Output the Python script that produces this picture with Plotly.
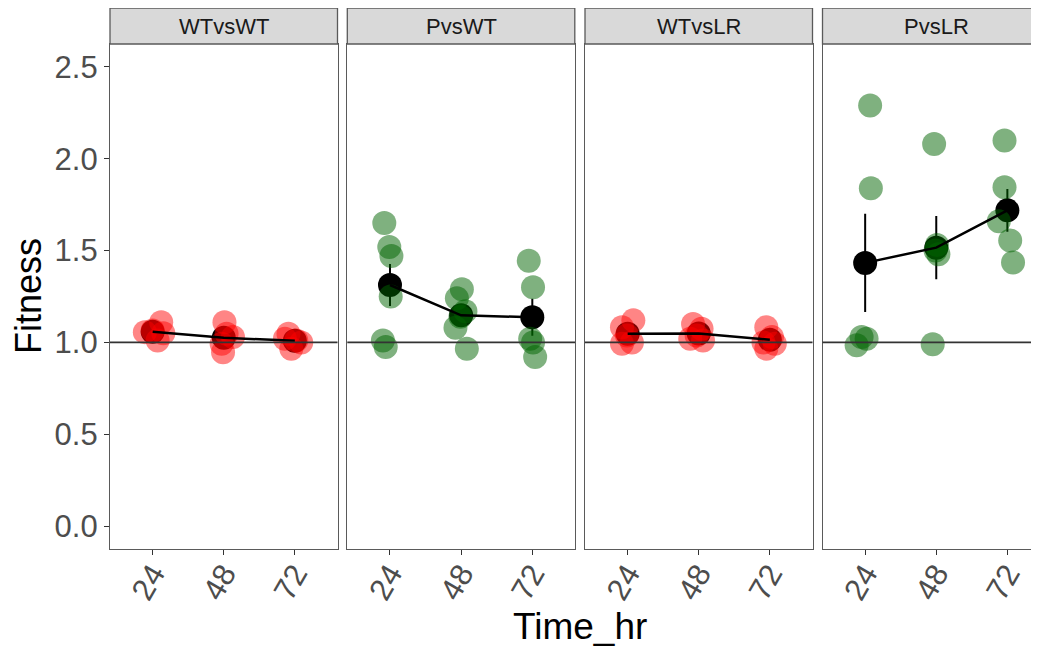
import numpy as np
import plotly.graph_objects as go

# ---------------- data ----------------
panels = ["WTvsWT", "PvsWT", "WTvsLR", "PvsLR"]
time_labels = ["24", "48", "72"]
panel_colors = ["rgba(255,0,0,0.48)", "rgba(0,100,0,0.5)",
                "rgba(255,0,0,0.48)", "rgba(0,100,0,0.5)"]

# Fitness values per panel, per time point (24, 48, 72)
wtvswt_24 = [1.11, 1.065, 1.056, 1.05, 1.01]
wtvswt_48 = [1.11, 1.047, 0.993, 0.947, 1.03]
wtvswt_72 = [1.047, 1.01, 0.966, 1.0, 1.02]

pvswt_24 = [1.65, 1.52, 1.47, 1.25, 1.01, 0.975]
pvswt_48 = [1.29, 1.24, 1.17, 1.14, 1.08, 0.965]
pvswt_72 = [1.445, 1.30, 1.02, 1.00, 0.92]

wtvslr_24 = [1.12, 1.083, 1.038, 0.993, 1.0]
wtvslr_48 = [1.10, 1.075, 1.038, 1.02, 1.01]
wtvslr_72 = [1.083, 1.03, 0.966, 0.993, 1.0]

pvslr_24 = [2.29, 1.84, 1.03, 1.02, 0.985]
pvslr_48 = [2.08, 1.53, 1.50, 1.48, 0.99]
pvslr_72 = [2.10, 1.845, 1.66, 1.555, 1.435]

# horizontal jitter (in category units) of each point
jit_wtvswt = [[0.12, 0.0, -0.11, 0.15, 0.07],
              [0.01, 0.04, -0.03, -0.01, 0.13],
              [-0.09, 0.02, -0.05, 0.09, -0.14]]
jit_pvswt = [[-0.08, -0.01, 0.02, 0.01, -0.10, -0.06],
             [0.01, -0.06, 0.06, -0.01, -0.08, 0.08],
             [-0.05, 0.01, -0.03, 0.01, 0.04]]
jit_wtvslr = [[0.08, -0.08, -0.01, -0.08, 0.06],
              [-0.08, 0.04, -0.03, -0.12, 0.06],
              [-0.05, 0.03, -0.05, 0.07, -0.09]]
jit_pvslr = [[0.07, 0.08, -0.05, 0.02, -0.12],
             [-0.03, 0.01, -0.01, 0.03, -0.05],
             [-0.04, -0.04, -0.12, 0.04, 0.08]]

values = [[wtvswt_24, wtvswt_48, wtvswt_72],
          [pvswt_24, pvswt_48, pvswt_72],
          [wtvslr_24, wtvslr_48, wtvslr_72],
          [pvslr_24, pvslr_48, pvslr_72]]
jitters = [jit_wtvswt, jit_pvswt, jit_wtvslr, jit_pvslr]

y_ticks = [0.0, 0.5, 1.0, 1.5, 2.0, 2.5]

# ---------------- layout geometry ----------------
OFF = 8  # page body margin offset
W, H = 1039 - OFF, 651 - OFF
px_left = [p - OFF for p in [110, 347.3, 585, 822.5]]
px_right = [p - OFF for p in [337.5, 575, 812.5, 1039]]
unit = 71.1
y_top_px, y_bot_px = 44 - OFF, 549 - OFF
strip_top_px = 8 - OFF

FONT = "Arial, Liberation Sans, sans-serif"
BORDER = "#5a5a5a"

fig = go.Figure()

for i, name in enumerate(panels):
    ax = "" if i == 0 else str(i + 1)
    xr, yr = "x" + ax, "y" + ax
    means, ses = [], []
    for t in range(3):
        v = np.array(values[i][t])
        means.append(v.mean())
        ses.append(v.std(ddof=1) / np.sqrt(len(v)))
    xs_cat = [1, 2, 3]
    # mean points with standard-error bars (drawn below the jittered points)
    fig.add_trace(go.Scatter(x=xs_cat, y=means, mode="markers", xaxis=xr, yaxis=yr,
                             marker=dict(size=24, color="black"),
                             error_y=dict(type="data", array=ses, visible=True,
                                          color="black", thickness=2, width=0),
                             showlegend=False, hoverinfo="skip"))
    # jittered raw points
    px_, py_ = [], []
    for t in range(3):
        for val, j in zip(values[i][t], jitters[i][t]):
            px_.append(t + 1 + j)
            py_.append(val)
    fig.add_trace(go.Scatter(x=px_, y=py_, mode="markers", xaxis=xr, yaxis=yr,
                             marker=dict(size=24, color=panel_colors[i],
                                         line=dict(width=0)),
                             showlegend=False))
    # mean line
    fig.add_trace(go.Scatter(x=xs_cat, y=means, mode="lines", xaxis=xr, yaxis=yr,
                             line=dict(color="black", width=2.5),
                             showlegend=False, hoverinfo="skip"))

    x0 = px_left[i] / W
    x1 = min(px_right[i] / W, 1.0)
    xmax = 0.4 + (px_right[i] - px_left[i]) / unit if i == 3 else 3.6
    fig.layout["xaxis" + ax] = dict(
        domain=[x0, x1], range=[0.4, xmax], anchor=yr,
        tickvals=[1, 2, 3], ticktext=time_labels, tickangle=-60,
        ticks="outside", ticklen=5, tickcolor="#333333", tickwidth=1.2,
        ticklabelstandoff=-12,
        tickfont=dict(size=31, color="#4d4d4d", family=FONT),
        showline=True, linecolor=BORDER, linewidth=1.3, mirror=True,
        showgrid=False, zeroline=False, fixedrange=True)
    fig.layout["yaxis" + ax] = dict(
        domain=[(H - y_bot_px) / H, (H - y_top_px) / H], range=[-0.125, 2.625],
        anchor=xr, tickvals=y_ticks,
        ticktext=["%.1f" % v for v in y_ticks],
        showticklabels=(i == 0), ticks="outside" if i == 0 else "",
        ticklen=5, tickcolor="#333333", tickwidth=1.2,
        tickfont=dict(size=31, color="#4d4d4d", family=FONT),
        showline=True, linecolor=BORDER, linewidth=1.3, mirror=(i != 3),
        showgrid=False, zeroline=False, fixedrange=True)

    # reference line at fitness 1
    fig.add_shape(type="line", xref=xr + " domain", yref=yr, x0=0, x1=1, y0=1, y1=1,
                  line=dict(color="#333333", width=1.6))
    # strip
    fig.add_shape(type="rect", xref="paper", yref="paper",
                  x0=x0, x1=(px_left[i] + 227.5) / W,
                  y0=(H - y_top_px) / H, y1=(H - strip_top_px) / H,
                  fillcolor="#d9d9d9", line=dict(color=BORDER, width=1.3), layer="above")
    fig.add_annotation(x=(px_left[i] + 113.75) / W, y=(H - (y_top_px + strip_top_px) / 2) / H,
                       xref="paper", yref="paper", text=name, showarrow=False,
                       font=dict(size=22, color="#1a1a1a", family=FONT),
                       xanchor="center", yanchor="middle")

fig.add_annotation(x=(28 - OFF) / W, y=(H - (296 - OFF)) / H, xref="paper", yref="paper",
                   text="Fitness", textangle=-90, showarrow=False,
                   font=dict(size=36, color="black", family=FONT),
                   xanchor="center", yanchor="middle")
fig.add_annotation(x=(579.5 - OFF) / W, y=(H - (626 - OFF)) / H, xref="paper", yref="paper",
                   text="Time_hr", showarrow=False,
                   font=dict(size=37, color="black", family=FONT),
                   xanchor="center", yanchor="middle")

fig.update_layout(width=W, height=H, margin=dict(l=0, r=0, t=0, b=0),
                  plot_bgcolor="white", paper_bgcolor="white",
                  font=dict(family=FONT), showlegend=False)

fig.write_html("out.html", config={"displayModeBar": False})
